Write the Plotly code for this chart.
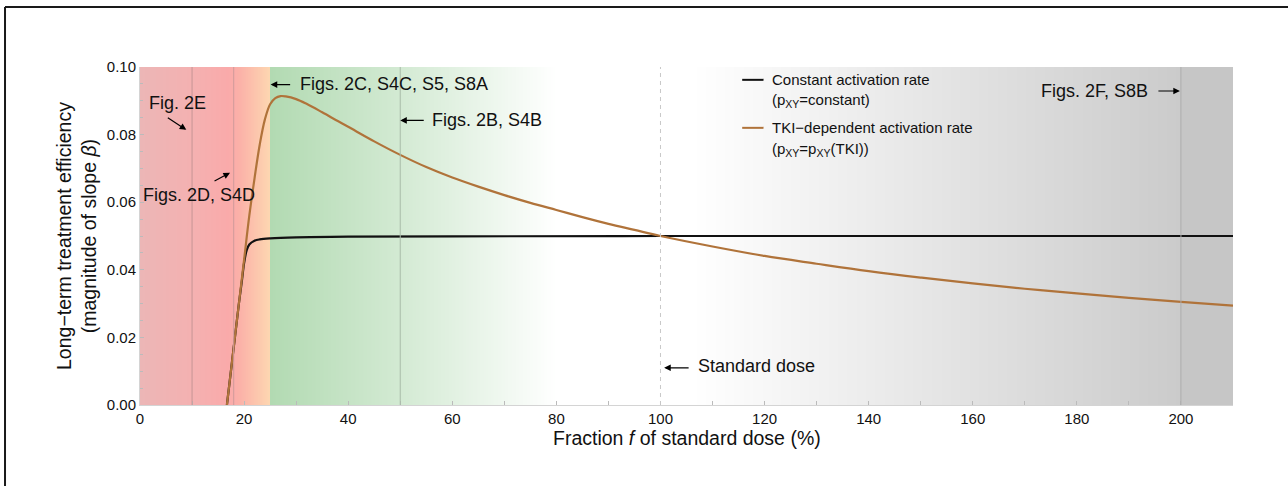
import plotly.graph_objects as go
import numpy as np

# Long-term treatment efficiency vs. fraction of standard dose
dose_tki = [16.7, 18, 19, 20, 21, 22, 23, 24, 25, 26, 27, 28, 30, 32, 35, 38, 40, 45, 50,
            55, 60, 65, 70, 75, 80, 85, 90, 95, 100, 110, 120, 130, 140, 150, 160, 170, 180,
            190, 200, 210]
eff_tki = [0.0, 0.017, 0.030, 0.043, 0.056, 0.067, 0.077, 0.0845, 0.089, 0.0908, 0.0914,
           0.0913, 0.0905, 0.0891, 0.0866, 0.0840, 0.0823, 0.0780, 0.0740,
           0.0704, 0.0673, 0.0646, 0.0621, 0.0598, 0.0577, 0.0556, 0.0536, 0.0518, 0.0500,
           0.0469, 0.0441, 0.0418, 0.0396, 0.0377, 0.0360, 0.0344, 0.0330, 0.0317, 0.0305,
           0.0294]

dose_const = [16.7, 18, 19, 19.6, 20, 20.5, 21, 22, 23, 25, 30, 40, 60, 100, 150, 210]
eff_const = [0.0, 0.017, 0.030, 0.037, 0.042, 0.0458, 0.0475, 0.0486, 0.0490, 0.0493,
             0.0496, 0.0498, 0.0499, 0.0500, 0.0500, 0.0500]

x_ticks = [0, 20, 40, 60, 80, 100, 120, 140, 160, 180, 200]
y_ticks = [0.00, 0.02, 0.04, 0.06, 0.08, 0.10]

# Background dose regimes: (dose, colour) stops
band_stops = [
    (0, "#ECB6B6"), (10, "#F4B1B1"), (17, "#FAAAAA"), (19, "#FBB0A8"),
    (25, "#FDD7B1"), (25.05, "#B2DAB2"), (50, "#D3EAD3"), (80, "#FFFFFF"),
    (106, "#FFFFFF"), (200, "#CBCBCB"), (200.05, "#C6C6C6"), (210, "#C6C6C6"),
]
X_MAX = 210
Y_MAX = 0.10

FONT = "Liberation Sans, Arial, Helvetica, sans-serif"
BROWN = "#B0733A"

fig = go.Figure()

# gradient background as a single-row heatmap coloured by dose
bg_x = np.arange(0.0, X_MAX + 0.001, 0.1)
fig.add_trace(go.Heatmap(
    x=bg_x, y=[0, Y_MAX], z=[bg_x, bg_x],
    colorscale=[[d / X_MAX, c] for d, c in band_stops],
    zmin=0, zmax=X_MAX, showscale=False, hoverinfo="skip", zsmooth=False,
))

fig.add_trace(go.Scatter(
    x=dose_const, y=eff_const, mode="lines", line=dict(color="#111111", width=2.2, shape="spline"),
    name="Constant activation rate", showlegend=False,
))
fig.add_trace(go.Scatter(
    x=dose_tki, y=eff_tki, mode="lines", line=dict(color=BROWN, width=2.2, shape="spline"),
    name="TKI-dependent activation rate", showlegend=False,
))

shapes = []
# reference lines for the simulated doses
for xv, col in [(10, "#C69494"), (18, "#CF9A9A"), (50, "#A8BCA8"), (200, "#A9A9A9")]:
    shapes.append(dict(type="line", xref="x", yref="y", x0=xv, x1=xv, y0=0, y1=Y_MAX,
                       line=dict(color=col, width=1)))
shapes.append(dict(type="line", xref="x", yref="y", x0=100, x1=100, y0=0, y1=Y_MAX,
                   line=dict(color="#C8C8C8", width=1, dash="4px,4px")))

# legend keys
shapes.append(dict(type="line", xref="x", yref="y", x0=115.7, x1=119.8, y0=0.0962, y1=0.0962,
                   line=dict(color="#111111", width=2)))
shapes.append(dict(type="line", xref="x", yref="y", x0=115.7, x1=119.8, y0=0.0820, y1=0.0820,
                   line=dict(color=BROWN, width=2)))

# outer frame (left and top edges)
shapes.append(dict(type="line", xref="paper", yref="paper", x0=-0.1235, x1=-0.1235,
                   y0=1.1775, y1=-0.26, line=dict(color="#1A1A1A", width=2)))
shapes.append(dict(type="line", xref="paper", yref="paper", x0=-0.1235, x1=1.06,
                   y0=1.1775, y1=1.1775, line=dict(color="#1A1A1A", width=2)))

ann = []
TXT = dict(family=FONT, size=18, color="#111111")
LEG = dict(family=FONT, size=15, color="#111111")


def label(x, y, text, anchor="left", font=TXT):
    ann.append(dict(x=x, y=y, xref="x", yref="y", text=text, showarrow=False,
                    xanchor=anchor, yanchor="middle", font=font))


def arrow(x, y, ax, ay):
    ann.append(dict(x=x, y=y, xref="x", yref="y", ax=ax, ay=ay, text="", showarrow=True,
                    arrowhead=2, arrowsize=1.1, arrowwidth=1.2, arrowcolor="#000000"))


label(1.35, 0.0893, "Fig. 2E")
arrow(8.9, 0.0814, -20, -13)
label(0.2, 0.0621, "Figs. 2D, S4D")
arrow(17.3, 0.0687, -17, 9)
label(30.4, 0.0950, "Figs. 2C, S4C, S5, S8A")
arrow(25.1, 0.0948, 21, 0)
label(55.7, 0.0842, "Figs. 2B, S4B")
arrow(50.0, 0.0842, 25, 0)
label(106.8, 0.0115, "Standard dose")
arrow(100.7, 0.0110, 26, 0)
label(194.0, 0.0929, "Figs. 2F, S8B", anchor="right")
arrow(199.8, 0.0929, -23, 0)

label(121.0, 0.0962, "Constant activation rate", font=LEG)
label(121.0, 0.0900, "(p<sub>XY</sub>=constant)", font=LEG)
label(121.0, 0.0820, "TKI\u2212dependent activation rate", font=LEG)
label(121.0, 0.0757, "(p<sub>XY</sub>=p<sub>XY</sub>(TKI))", font=LEG)

# axis titles
ann.append(dict(x=(76 - 140) / 1093, y=0.5, xref="paper", yref="paper", textangle=-90,
                text="Long\u2212term treatment efficiency<br>(magnitude of slope <i>\u03b2</i>)",
                showarrow=False, xanchor="center", yanchor="middle",
                font=dict(family=FONT, size=19.5, color="#111111")))
ann.append(dict(x=0.5, y=(405 - 438) / 338, xref="paper", yref="paper",
                text="Fraction <i>f</i> of standard dose (%)",
                showarrow=False, xanchor="center", yanchor="middle",
                font=dict(family=FONT, size=19.5, color="#111111")))

fig.update_layout(
    width=1288, height=486,
    margin=dict(l=140, r=55, t=67, b=81),
    paper_bgcolor="white", plot_bgcolor="white",
    shapes=shapes, annotations=ann,
    showlegend=False,
    font=dict(family=FONT, size=15, color="#111111"),
)
fig.update_xaxes(
    range=[0, X_MAX], tickvals=x_ticks, ticktext=[str(v) for v in x_ticks],
    ticks="inside", ticklen=4, tickcolor="#BBBBBB", showgrid=False, zeroline=False,
    showline=True, linecolor="#D4D4D4", linewidth=1,
    minor=dict(dtick=10, ticks="inside", ticklen=4, tickcolor="#BBBBBB"),
    tickfont=dict(family=FONT, size=15, color="#111111"),
)
fig.update_yaxes(
    range=[0, Y_MAX], tickvals=y_ticks, ticktext=[f"{v:.2f}" for v in y_ticks],
    ticks="inside", ticklen=4, tickcolor="#BBBBBB", showgrid=False, zeroline=False,
    showline=True, linecolor="#D4D4D4", linewidth=1,
    minor=dict(dtick=0.005, ticks="inside", ticklen=3, tickcolor="#BBBBBB"),
    tickfont=dict(family=FONT, size=15, color="#111111"),
)

fig.write_html("out.html")
